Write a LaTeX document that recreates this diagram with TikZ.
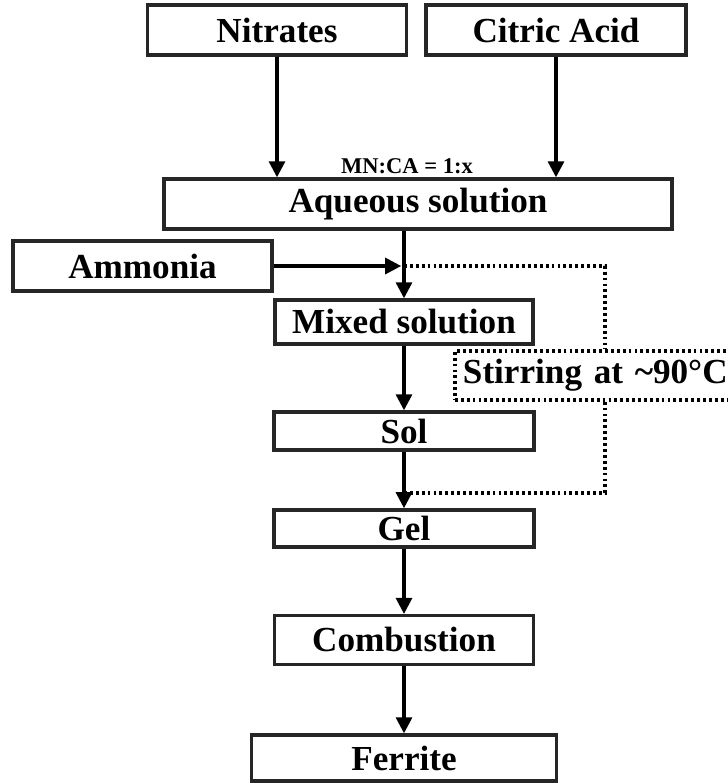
\documentclass[tikz,border=0pt]{standalone}
\usepackage{fontspec}
\setmainfont{Liberation Serif}
\usepackage{tikz}
\usetikzlibrary{arrows.meta,positioning,calc}
\tikzset{
  blk/.style={draw=black!85, line width=2.4pt, inner sep=0pt, align=center,
              font=\fontsize{25}{29}\selectfont\bfseries},
  cond/.style={blk, draw=black, line width=2.6pt, dash pattern=on 2pt off 2.2pt},
  sig/.style={-{Triangle[length=4mm,width=4mm]}, line width=2.2pt, draw=black},
  dotline/.style={line width=2.6pt, dash pattern=on 2pt off 2.2pt},
  lab/.style={font=\fontsize{16}{18}\selectfont\bfseries, inner sep=1pt},
}
\begin{document}
\begin{tikzpicture}[x=0.025cm, y=-0.025cm]
    \useasboundingbox (0,0) rectangle (728,783);
    \node[blk, minimum width=6.475cm, minimum height=1.25cm] (nit) at (277,30) {Nitrates};
    \node[blk, minimum width=6.5cm, minimum height=1.25cm] (cit) at (556,30) {Citric Acid};
    \node[blk, minimum width=12.7cm, minimum height=1.25cm] (aq) at (418,204) {Aqueous solution};
    \node[blk, minimum width=6.475cm, minimum height=1.25cm] (amm) at (142.5,266) {Ammonia};
    \node[blk, minimum width=6.45cm, minimum height=1.1cm] (mix) at (404,322) {Mixed solution};
    \node[cond, minimum width=7.5cm, minimum height=1.22cm, text width=7.1cm, align=left] (stir) at (605,375.5) {Stirring at \char"007E 90°C};
    \node[blk, minimum width=6.5cm, minimum height=0.95cm] (sol) at (404,431) {Sol};
    \node[blk, minimum width=6.5cm, minimum height=0.93cm] (gel) at (404,528.5) {Gel};
    \node[blk, minimum width=6.475cm, minimum height=1.22cm] (com) at (404,640) {Combustion};
    \node[blk, minimum width=7.625cm, minimum height=1.15cm] (fer) at (404,758) {Ferrite};
    \node[lab] (ratio) at (407,166) {MN:CA = 1:x};
    \coordinate (jt) at (amm.east -| mix.north);
    \coordinate (jb) at (404,493);
    % feeds
    \draw[sig] (nit.south) -- (nit.south |- aq.north);
    \draw[sig] (cit.south) -- (cit.south |- aq.north);
    \draw[sig] (aq.south -| mix.north) -- (mix.north);
    \draw[sig, shorten >=2pt] (amm.east) -- (jt);
    % main line
    \draw[sig] (mix) -- (sol);
    \draw[sig] (sol) -- (gel);
    \draw[sig] (gel) -- (com);
    \draw[sig] (com) -- (fer);
    % stirring loop
    \draw[dotline] (jt) -| (stir.north);
    \draw[dotline] (stir.south) |- (jb);
  \end{tikzpicture}
\end{document}
